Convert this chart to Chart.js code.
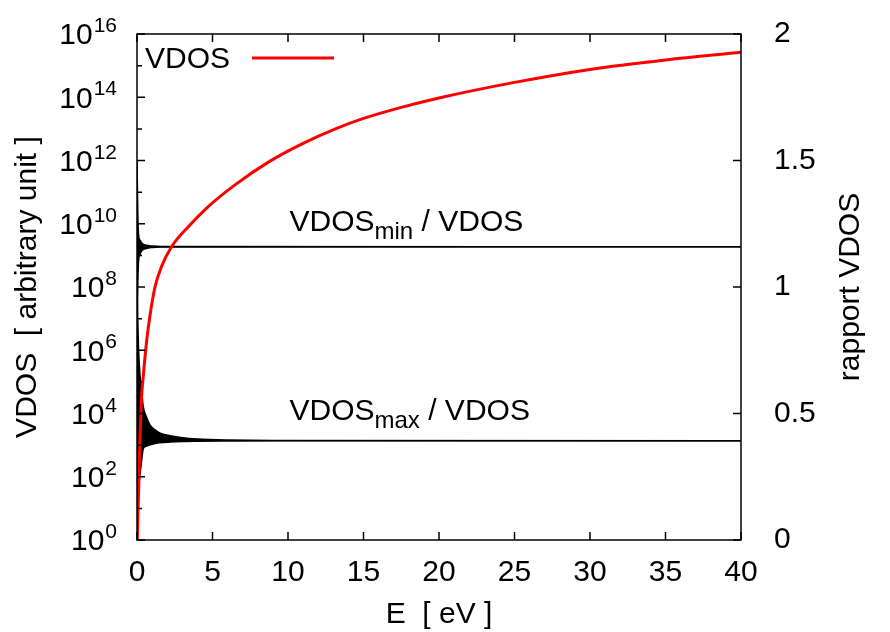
<!DOCTYPE html>
<html lang="fr">
<head>
    <meta charset="UTF-8">
    <title>VDOS</title>
    <script src="https://cdn.jsdelivr.net/npm/chart.js"></script>
    <style>
        body { margin: 0; background: #fff; }
        canvas { display: block; }
    </style>
</head>
<body>
    <canvas id="vdosChart" width="890" height="632"></canvas>

    <script>
        const FONT = "'Liberation Sans', Arial, sans-serif";

        // VDOS curve (E in eV, VDOS in arbitrary units)
        const energy = [0.02, 0.06, 0.11, 0.17, 0.22, 0.3, 0.42, 0.64, 0.86, 1.19, 1.63, 2.3,
                        3.4, 4.72, 6.49, 8.7, 10.9, 13.1, 15, 17.5, 20, 25, 30, 35, 40];
        const vdos = [1, 6.3, 40, 630, 3.2e3, 3.2e4, 1.6e5, 2.0e6, 1.26e7, 1.0e8, 4.5e8, 1.9e9,
                      8.1e9, 3.5e10, 1.7e11, 8.9e11, 3.3e12, 9.8e12, 2.14e13, 4.8e13, 9.5e13,
                      2.95e14, 7.6e14, 1.51e15, 2.63e15];

        // VDOSmin / VDOS : envelope of the oscillations near E = 0
        const minE = [0, 0.05, 0.1, 0.2, 0.35, 0.6, 1.0, 1.6, 40];
        const minUpper = [1.5, 1.3, 1.21, 1.185, 1.172, 1.165, 1.162, 1.16, 1.159];
        const minLower = [0.8, 1.0, 1.1, 1.13, 1.145, 1.152, 1.156, 1.158, 1.159];

        // VDOSmax / VDOS
        const maxE = [0, 0.1, 0.2, 0.3, 0.42, 0.6, 0.86, 1.2, 1.5, 2.2, 3, 4, 6, 9, 40];
        const maxUpper = [1.0, 0.76, 0.65, 0.59, 0.525, 0.49, 0.455, 0.435, 0.423, 0.412, 0.404, 0.399, 0.395, 0.393, 0.392];
        const maxLower = [0.1, 0.2, 0.26, 0.31, 0.362, 0.37, 0.376, 0.381, 0.384, 0.387, 0.389, 0.39, 0.391, 0.392, 0.392];

        const xTicks = [0, 5, 10, 15, 20, 25, 30, 35, 40];
        const logExponents = [0, 2, 4, 6, 8, 10, 12, 14, 16];
        const ratioTicks = [0, 0.5, 1, 1.5, 2];

        const pts = (xs, ys) => xs.map((x, i) => ({ x: x, y: ys[i] }));

        // frame, inward tick marks and all the text gnuplot-style
        const decorations = {
            id: 'decorations',
            afterDatasetsDraw(chart) {
                const ctx = chart.ctx;
                const a = chart.chartArea;
                const sx = chart.scales.x, sy = chart.scales.y, sy2 = chart.scales.y2;
                ctx.save();
                ctx.strokeStyle = '#000';
                ctx.lineWidth = 1.5;
                ctx.beginPath();
                xTicks.forEach(v => {
                    const px = sx.getPixelForValue(v);
                    ctx.moveTo(px, a.bottom); ctx.lineTo(px, a.bottom - 8);
                    ctx.moveTo(px, a.top); ctx.lineTo(px, a.top + 8);
                });
                for (let e = 0; e <= 16; e++) {
                    const py = sy.getPixelForValue(Math.pow(10, e));
                    ctx.moveTo(a.left, py); ctx.lineTo(a.left + (e % 2 ? 5 : 8), py);
                }
                ratioTicks.forEach(v => {
                    const py = sy2.getPixelForValue(v);
                    ctx.moveTo(a.right, py); ctx.lineTo(a.right - 8, py);
                });
                ctx.stroke();
                ctx.strokeRect(a.left, a.top, a.right - a.left, a.bottom - a.top);
                ctx.restore();
            },
            afterDraw(chart) {
                const ctx = chart.ctx;
                const a = chart.chartArea;
                const sx = chart.scales.x, sy = chart.scales.y, sy2 = chart.scales.y2;
                ctx.save();
                ctx.fillStyle = '#000';

                // 10^n labels
                logExponents.forEach(e => {
                    const py = sy.getPixelForValue(Math.pow(10, e));
                    const right = a.left - 20;
                    ctx.font = '21px ' + FONT;
                    ctx.textAlign = 'right';
                    ctx.textBaseline = 'alphabetic';
                    ctx.fillText(String(e), right, py - 2);
                    const w = ctx.measureText(String(e)).width;
                    ctx.font = '30px ' + FONT;
                    ctx.textBaseline = 'middle';
                    ctx.fillText('10', right - w - 1, py + 2);
                });

                // axis titles
                ctx.font = '30px ' + FONT;
                ctx.textAlign = 'center';
                ctx.textBaseline = 'middle';
                ctx.fillText('E  [ eV ]', (a.left + a.right) / 2, 615);
                ctx.save();
                ctx.translate(28, (a.top + a.bottom) / 2);
                ctx.rotate(-Math.PI / 2);
                ctx.fillText('VDOS  [ arbitrary unit ]', 0, 0);
                ctx.restore();
                ctx.save();
                ctx.translate(851, (a.top + a.bottom) / 2);
                ctx.rotate(-Math.PI / 2);
                ctx.fillText('rapport VDOS', 0, 0);
                ctx.restore();

                // key
                ctx.textAlign = 'left';
                ctx.textBaseline = 'alphabetic';
                ctx.fillText('VDOS', a.left + 8, a.top + 34);
                ctx.strokeStyle = chart.data.datasets[0].borderColor;
                ctx.lineWidth = 3;
                ctx.beginPath();
                ctx.moveTo(a.left + 115, a.top + 24);
                ctx.lineTo(a.left + 197, a.top + 24);
                ctx.stroke();

                // curve labels with subscripts
                const label = (sub, e, r) => {
                    let x = sx.getPixelForValue(e);
                    const y = sy2.getPixelForValue(r);
                    ctx.font = '30px ' + FONT;
                    ctx.fillText('VDOS', x, y);
                    x += ctx.measureText('VDOS').width;
                    ctx.font = '24px ' + FONT;
                    ctx.fillText(sub, x, y + 8);
                    x += ctx.measureText(sub).width;
                    ctx.font = '30px ' + FONT;
                    ctx.fillText(' / VDOS', x, y);
                };
                label('min', 10.1, 1.22);
                label('max', 10.1, 0.474);
                ctx.restore();
            }
        };

        const ctx = document.getElementById('vdosChart').getContext('2d');
        new Chart(ctx, {
            type: 'line',
            data: {
                datasets: [{
                    label: 'VDOS',
                    data: pts(energy, vdos),
                    yAxisID: 'y',
                    borderColor: '#ff0000',
                    borderWidth: 3,
                    cubicInterpolationMode: 'monotone',
                    fill: false
                }, {
                    label: 'VDOSmin / VDOS',
                    data: pts(minE, minUpper),
                    yAxisID: 'y2',
                    borderColor: '#000',
                    borderWidth: 1.5,
                    cubicInterpolationMode: 'monotone',
                    fill: false
                }, {
                    label: 'VDOSmin / VDOS (low)',
                    data: pts(minE, minLower),
                    yAxisID: 'y2',
                    borderColor: '#000',
                    backgroundColor: '#000',
                    borderWidth: 1.5,
                    cubicInterpolationMode: 'monotone',
                    fill: '-1'
                }, {
                    label: 'VDOSmax / VDOS',
                    data: pts(maxE, maxUpper),
                    yAxisID: 'y2',
                    borderColor: '#000',
                    borderWidth: 1.5,
                    cubicInterpolationMode: 'monotone',
                    fill: false
                }, {
                    label: 'VDOSmax / VDOS (low)',
                    data: pts(maxE, maxLower),
                    yAxisID: 'y2',
                    borderColor: '#000',
                    backgroundColor: '#000',
                    borderWidth: 1.5,
                    cubicInterpolationMode: 'monotone',
                    fill: '-1'
                }]
            },
            options: {
                responsive: false,
                animation: false,
                layout: { padding: { top: 34, left: 0, right: 0, bottom: 0 } },
                elements: { point: { radius: 0 } },
                plugins: {
                    legend: { display: false },
                    tooltip: { enabled: false }
                },
                scales: {
                    x: {
                        type: 'linear',
                        position: 'bottom',
                        min: 0,
                        max: 40,
                        afterFit: s => { s.height = 92; s.paddingLeft = 0; s.paddingRight = 0; },
                        afterBuildTicks: s => { s.ticks = xTicks.map(v => ({ value: v })); },
                        ticks: {
                            font: { family: FONT, size: 30 },
                            color: '#000',
                            padding: 15,
                            maxRotation: 0,
                            autoSkip: false
                        },
                        grid: { display: false, drawTicks: false },
                        border: { display: false }
                    },
                    y: {
                        type: 'logarithmic',
                        position: 'left',
                        min: 1,
                        max: 1e16,
                        afterFit: s => { s.width = 137; s.paddingTop = 0; s.paddingBottom = 0; },
                        ticks: { display: false },
                        grid: { display: false, drawTicks: false },
                        border: { display: false }
                    },
                    y2: {
                        type: 'linear',
                        position: 'right',
                        min: 0,
                        max: 2,
                        afterFit: s => { s.width = 149; s.paddingTop = 0; s.paddingBottom = 0; },
                        afterBuildTicks: s => { s.ticks = ratioTicks.map(v => ({ value: v })); },
                        ticks: {
                            font: { family: FONT, size: 30 },
                            color: '#000',
                            padding: 33,
                            callback: v => String(v)
                        },
                        grid: { display: false, drawTicks: false },
                        border: { display: false }
                    }
                }
            },
            plugins: [decorations]
        });
    </script>
</body>
</html>
